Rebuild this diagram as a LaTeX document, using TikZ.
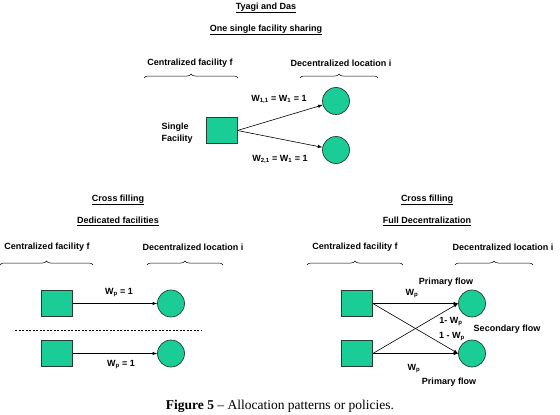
\documentclass[tikz,border=0pt]{standalone}
\usepackage{fontspec}
\setmainfont{Liberation Serif}
\setsansfont{Liberation Sans}
\usepackage{tikz}
\usetikzlibrary{calc,arrows,positioning,decorations.pathreplacing}
\definecolor{cFac}{RGB}{26,204,150}
\definecolor{cEdge}{RGB}{40,60,50}

\begin{document}
\begin{tikzpicture}[x=1pt,y=-1pt,
  fac/.style={draw=cEdge,fill=cFac,line width=0.7pt,minimum width=31pt,minimum height=26pt,inner sep=0pt},
  loc/.style={circle,draw=cEdge,fill=cFac,line width=0.7pt,minimum size=27pt,inner sep=0pt},
  lbl/.style={font=\sffamily\bfseries\fontsize{9}{12}\selectfont},
  ttl/.style={font=\sffamily\bfseries\fontsize{9}{12}\selectfont},
  flow/.style={-latex,line width=0.6pt},
  brc/.style={decorate,decoration={brace,amplitude=4pt},line width=0.5pt}]
  \useasboundingbox (0,0) rectangle (560,415);
  % one single facility sharing
  \node[ttl] (tTyagi) at (266,8) {\underline{Tyagi and Das}};
  \node[ttl] (tShare) at (266,30) {\underline{One single facility sharing}};
  \node[lbl] (cTop) at (190,63) {Centralized facility f};
  \node[lbl] (dTop) at (341,63) {Decentralized location i};
  \draw[brc] (144,78) -- (238,78);
  \draw[brc] (300,78) -- (378,78);
  \node[fac] (fTop) at (221.5,130.5) {};
  \node[loc] (lTopA) at (336,101) {};
  \node[loc] (lTopB) at (336,150) {};
  \draw[flow] (fTop.east) -- (lTopA);
  \draw[flow] (fTop.east) -- (lTopB);
  \node[lbl] (wTopA) at (279,99) {W\textsubscript{1,1} = W\textsubscript{1} = 1};
  \node[lbl] (wTopB) at (280,159) {W\textsubscript{2,1} = W\textsubscript{1} = 1};
  \node[lbl,align=left,anchor=west] (sFac) at (158,133) {Single\\Facility};
  % dedicated facilities
  \node[ttl] (tCrossL) at (118,200) {\underline{Cross filling}};
  \node[ttl] (tDed) at (118,221) {\underline{Dedicated facilities}};
  \node[lbl] (cLeft) at (47,247) {Centralized facility f};
  \node[lbl] (dLeft) at (193,247) {Decentralized location i};
  \draw[brc] (0,265) -- (93,265);
  \draw[brc] (147,265) -- (223,265);
  \foreach \y/\n in {303.5/1,353.5/2} {
    \node[fac] (dF\n) at (57,\y) {};
    \node[loc] (dL\n) at (171,\y) {};
    \draw[flow] (dF\n) -- (dL\n);
  }
  \node[lbl] (wDedA) at (119,293) {W\textsubscript{p} = 1};
  \node[lbl] (wDedB) at (121,365) {W\textsubscript{p} = 1};
  \draw[line width=0.5pt,dash pattern=on 2pt off 1.5pt] (15,330) -- (202,330);
  % full decentralization
  \node[ttl] (tCrossR) at (427,200) {\underline{Cross filling}};
  \node[ttl] (tFull) at (427,221) {\underline{Full Decentralization}};
  \node[lbl] (cRight) at (355,247) {Centralized facility f};
  \node[lbl] (dRight) at (503,247) {Decentralized location i};
  \draw[brc] (307,265) -- (403,265);
  \draw[brc] (455,265) -- (533,265);
  \foreach \y/\n in {303.5/1,353.5/2} {
    \node[fac] (fF\n) at (357,\y) {};
    \node[loc] (fL\n) at (472,\y) {};
  }
  \draw[flow] (fF1.east) -- (fL1.west);
  \draw[flow] (fF1.east) -- (fL2.west);
  \draw[flow] (fF2.east) -- (fL1.west);
  \draw[flow] (fF2.east) -- (fL2.west);
  \node[lbl] (pTop) at (446,282) {Primary flow};
  \node[lbl] (wTop) at (412,294) {W\textsubscript{p}};
  \node[lbl] (sA) at (451,322) {1- W\textsubscript{p}};
  \node[lbl] (sB) at (452,337) {1 - W\textsubscript{p}};
  \node[lbl] (sec) at (507,329) {Secondary flow};
  \node[lbl] (wBot) at (414,369) {W\textsubscript{p}};
  \node[lbl] (pBot) at (449,382) {Primary flow};
  % caption
  \node[font=\fontsize{13.5}{15}\selectfont] (cap) at (280,406) {\textbf{Figure 5} -- Allocation patterns or policies.};
\end{tikzpicture}
\end{document}
